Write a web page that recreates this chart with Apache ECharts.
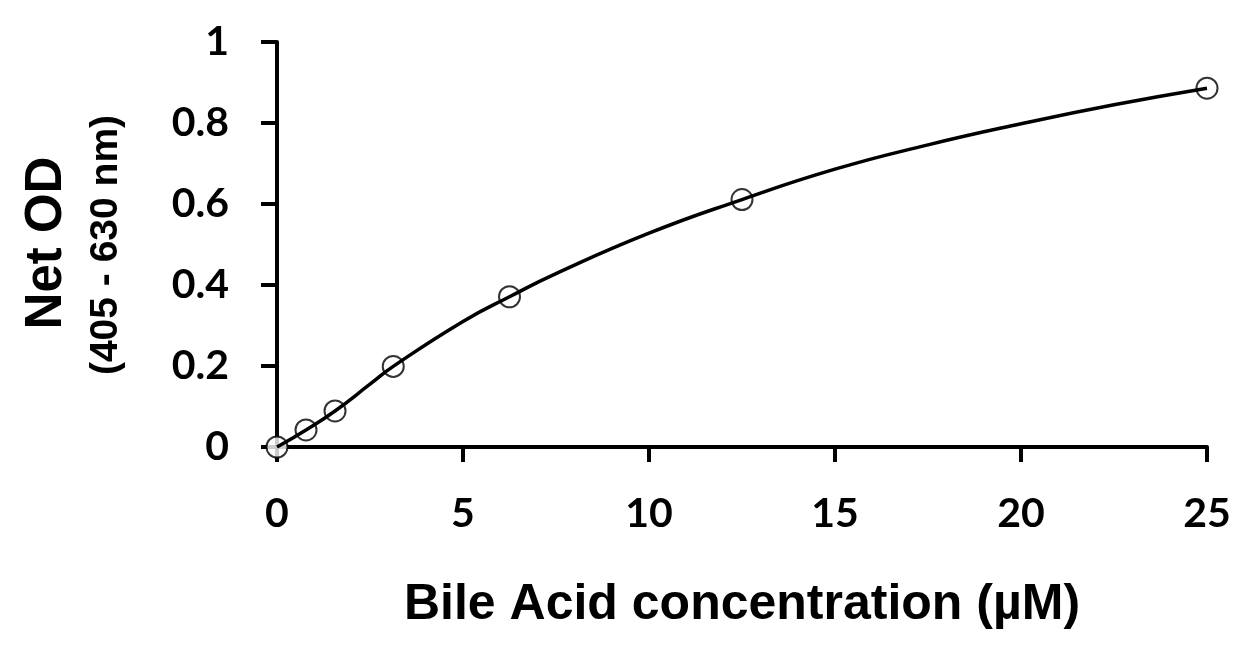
<!DOCTYPE html>
<html>
<head>
<meta charset="utf-8">
<script src="https://cdn.jsdelivr.net/npm/echarts@6/dist/echarts.min.js"></script>
<style>html,body{margin:0;padding:0;background:#fff}#c{width:1254px;height:664px}</style>
</head>
<body>
<div id="c"></div>
<script>
// Measured standards (concentration µM, Net OD)
const pointX = [0, 0.78, 1.56, 3.125, 6.25, 12.5, 25];
const pointY = [0, 0.042, 0.089, 0.199, 0.371, 0.611, 0.886];
// Fitted curve
const curveX = [0, 0.78, 1.56, 2.5, 3.125, 5, 6.25, 7.5, 10, 12.5, 15, 17.5, 20, 22.5, 25];
const curveY = [0, 0.042, 0.089, 0.155, 0.199, 0.31, 0.371, 0.428, 0.528, 0.611, 0.686, 0.746, 0.798, 0.845, 0.886];
const xTitle = 'Bile Acid concentration (µM)';
const yTitle1 = 'Net OD';
const yTitle2 = '(405 - 630 nm)';

const chart = echarts.init(document.getElementById('c'));
const lab = {fontFamily: 'Lato', fontWeight: 'bold', fontSize: 41, color: '#000'};
chart.setOption({
  animation: false,
  backgroundColor: '#fff',
  grid: {left: 277, right: 47, top: 42, bottom: 217, containLabel: false},
  xAxis: {
    type: 'value', min: 0, max: 25, interval: 5,
    axisLine: {show: true, onZero: false, lineStyle: {color: '#000', width: 4}},
    axisTick: {show: true, length: 15, lineStyle: {color: '#000', width: 4}},
    axisLabel: Object.assign({margin: 46}, lab),
    splitLine: {show: false},
    name: xTitle, nameLocation: 'middle', nameGap: 133,
    nameTextStyle: {fontFamily: 'Liberation Sans', fontWeight: 'bold', fontSize: 50, color: '#000'}
  },
  yAxis: {
    type: 'value', min: 0, max: 1, interval: 0.2,
    axisLine: {show: true, onZero: false, lineStyle: {color: '#000', width: 4}},
    axisTick: {show: true, length: 16, lineStyle: {color: '#000', width: 4}},
    axisLabel: Object.assign({margin: 48}, lab),
    splitLine: {show: false}
  },
  graphic: [
    {type: 'text', x: 47, y: 243, rotation: Math.PI / 2,
     style: {text: yTitle1, fontFamily: 'Liberation Sans', fontWeight: 'bold', fontSize: 51, fill: '#000', align: 'center', verticalAlign: 'middle'}},
    {type: 'text', x: 106, y: 245, rotation: Math.PI / 2,
     style: {text: yTitle2, fontFamily: 'Liberation Sans', fontWeight: 'bold', fontSize: 39, fill: '#000', align: 'center', verticalAlign: 'middle'}}
  ],
  series: [
    {type: 'scatter', z: 3, data: pointX.map((x, i) => [x, pointY[i]]),
     symbol: 'circle', symbolSize: 21,
     itemStyle: {color: '#fff', borderColor: '#000', borderWidth: 2}},
    {type: 'line', z: 4, data: curveX.map((x, i) => [x, curveY[i]]),
     smooth: 0.5, showSymbol: false, symbol: 'none',
     lineStyle: {color: '#000', width: 3.5}}
  ]
});
</script>
</body>
</html>
